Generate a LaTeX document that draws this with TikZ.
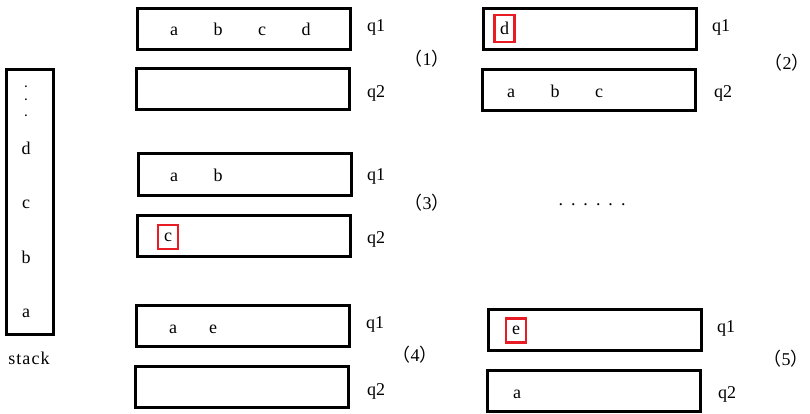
\documentclass[tikz,border=0pt]{standalone}
\usepackage{fontspec}
\setmainfont{Liberation Serif}
\newfontfamily\cjk{Noto Sans CJK SC}
\usepackage{tikz}
\usetikzlibrary{positioning}
\definecolor{markred}{RGB}{232,28,36}
\tikzset{queue/.style = {draw,line width=3pt,minimum width=213pt,minimum height=41pt,inner sep=0pt},
         elem/.style = {anchor=base,inner sep=0pt},
         hilite/.style = {draw=markred,line width=2.5pt,inner sep=0pt,minimum width=20pt,minimum height=24pt}}
\newcommand\stepno[1]{\kern-5pt{\cjk （}#1{\cjk ）}\kern-5pt}

\begin{document}
\begin{tikzpicture}[x=1pt,y=-1pt,font=\fontsize{18}{21}\selectfont]
    \useasboundingbox (0,0) rectangle (810,414);
    % stack
    \node[draw,line width=3pt,minimum width=47pt,minimum height=265pt,inner sep=0pt] (stk) at (30,202) {};
    \foreach \y [count=\i] in {88,101,117}
        \node[elem,font=\fontsize{11}{13}\bfseries\selectfont] (dot\i) at (26,\y) {.};
    \foreach \l/\y in {d/155,c/208,b/263,a/317}
        \node[elem] (s\l) at (26,\y) {\l};
    \node[elem] (stklbl) at (29,364) {\addfontfeature{LetterSpace=6}stack};
    % (1)
    \node[queue] (q1s1) at (244,29) {};
    \node[queue] (q2s1) at (243,89.5) {};
    \foreach \l/\x in {a/174,b/218,c/262,d/306}
        \node[elem] (s1\l) at (\x,36) {\l};
    \node[elem] (lq1s1) at (376,32) {q1};
    \node[elem] (lq2s1) at (376,98) {q2};
    \node[elem] (st1) at (427,66) {\stepno{1}};
    % (2)
    \node[queue] (q1s2) at (590,29) {};
    \node[queue] (q2s2) at (589,90) {};
    \node[hilite,minimum height=27pt] (s2d) at (504.5,28.5) {d};
    \foreach \l/\x in {a/511,b/555,c/599}
        \node[elem] (s2\l) at (\x,98) {\l};
    \node[elem] (lq1s2) at (721,32) {q1};
    \node[elem] (lq2s2) at (723,98) {q2};
    \node[elem] (st2) at (787,70) {\stepno{2}};
    % (3)
    \node[queue] (q1s3) at (244.5,174.5) {};
    \node[queue] (q2s3) at (244,235.5) {};
    \foreach \l/\x in {a/174,b/218}
        \node[elem] (s3\l) at (\x,182) {\l};
    \node[hilite] (s3c) at (168,237) {c};
    \node[elem] (lq1s3) at (376,180) {q1};
    \node[elem] (lq2s3) at (376,243) {q2};
    \node[elem] (st3) at (427,209) {\stepno{3}};
    \node (gap) at (592,205) {.\kern8pt.\kern8pt.\kern8pt.\kern8pt.\kern8pt.};
    % (4)
    \node[queue] (q1s4) at (243,325.5) {};
    \node[queue] (q2s4) at (242,387) {};
    \foreach \l/\x in {a/173,e/213}
        \node[elem] (s4\l) at (\x,333) {\l};
    \node[elem] (lq1s4) at (375,328) {q1};
    \node[elem] (lq2s4) at (376,395) {q2};
    \node[elem] (st4) at (415,361) {\stepno{4}};
    % (5)
    \node[queue] (q1s5) at (595,330) {};
    \node[queue] (q2s5) at (594,391) {};
    \node[hilite] (s5e) at (516,330.5) {e};
    \node[elem] (s5a) at (517,398) {a};
    \node[elem] (lq1s5) at (726,332) {q1};
    \node[elem] (lq2s5) at (727,398) {q2};
    \node[elem] (st5) at (786,365) {\stepno{5}};
\end{tikzpicture}
\end{document}
